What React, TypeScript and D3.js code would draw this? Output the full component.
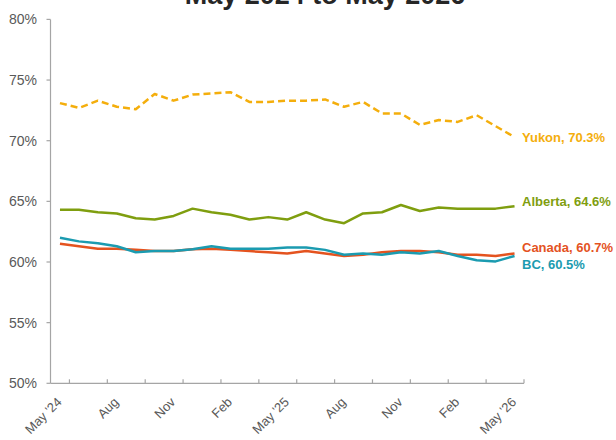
import * as d3 from 'd3';
import { useEffect, useRef } from 'react';

const WIDTH = 616;
const HEIGHT = 440;

const TITLE = 'May 2024 to May 2026';

// one entry per month, May '24 .. May '26
const MONTHS = [
    "May '24", 'Jun', 'Jul', 'Aug', 'Sep', 'Oct', 'Nov', 'Dec', 'Jan', 'Feb', 'Mar', 'Apr',
    "May '25", 'Jun', 'Jul', 'Aug', 'Sep', 'Oct', 'Nov', 'Dec', 'Jan', 'Feb', 'Mar', 'Apr', "May '26",
];

const YUKON = [
    73.1, 72.7, 73.3, 72.8, 72.6, 73.85, 73.3, 73.8, 73.9, 74.0, 73.2, 73.2, 73.3,
    73.3, 73.4, 72.8, 73.2, 72.25, 72.25, 71.3, 71.7, 71.55, 72.1, 71.2, 70.3,
];
const ALBERTA = [
    64.3, 64.3, 64.1, 64.0, 63.6, 63.5, 63.8, 64.4, 64.1, 63.9, 63.5, 63.7, 63.5,
    64.1, 63.5, 63.2, 64.0, 64.1, 64.7, 64.2, 64.5, 64.4, 64.4, 64.4, 64.6,
];
const CANADA = [
    61.5, 61.3, 61.1, 61.1, 61.0, 60.9, 60.9, 61.05, 61.1, 61.0, 60.9, 60.8, 60.7,
    60.9, 60.7, 60.5, 60.6, 60.8, 60.9, 60.9, 60.8, 60.6, 60.6, 60.5, 60.7,
];
const BC = [
    62.0, 61.7, 61.55, 61.3, 60.8, 60.9, 60.9, 61.05, 61.3, 61.1, 61.1, 61.1, 61.2,
    61.2, 61.0, 60.6, 60.7, 60.6, 60.8, 60.7, 60.9, 60.5, 60.15, 60.05, 60.5,
];

const Y_TICKS = [50, 55, 60, 65, 70, 75, 80];

type Series = { name: string; values: number[]; color: string; dashed: boolean; labelY: number };

const SERIES: Series[] = [
    { name: 'Yukon', values: YUKON, color: '#f4ae0c', dashed: true, labelY: 137 },
    { name: 'Alberta', values: ALBERTA, color: '#7f9e0f', dashed: false, labelY: 201 },
    { name: 'Canada', values: CANADA, color: '#e4531f', dashed: false, labelY: 247 },
    { name: 'BC', values: BC, color: '#1b9bb0', dashed: false, labelY: 264 },
];

const FONT = '"Liberation Sans", Arial, sans-serif';

const App = () => {
    const svgRef = useRef<SVGSVGElement | null>(null);

    useEffect(() => {
        document.body.style.margin = '0';
        if (!svgRef.current) return;

        const svg = d3.select(svgRef.current);
        svg.selectAll('*').remove();

        const left = 50.5;
        const right = 524;
        const top = 19.4;
        const bottom = 383.3;

        const x = d3.scaleBand<number>().domain(d3.range(MONTHS.length)).range([left, right]);
        const cx = (i: number) => x(i)! + x.bandwidth() / 2;
        const y = d3.scaleLinear().domain([50, 80]).range([bottom, top]);

        const axisColor = '#a5a5a5';
        const textColor = '#595959';

        // title, mostly clipped by the top edge (as in the original)
        svg.append('text')
            .attr('x', 325)
            .attr('y', 4)
            .attr('text-anchor', 'middle')
            .style('font-family', FONT)
            .style('font-weight', 'bold')
            .style('font-size', '27px')
            .attr('fill', '#262626')
            .text(TITLE);

        // y axis
        svg.append('line')
            .attr('x1', left)
            .attr('x2', left)
            .attr('y1', top)
            .attr('y2', bottom)
            .attr('stroke', axisColor)
            .attr('stroke-width', 1.2);

        const yTicks = svg.append('g');
        yTicks
            .selectAll('line')
            .data(Y_TICKS)
            .join('line')
            .attr('x1', left - 4)
            .attr('x2', left)
            .attr('y1', (d) => y(d))
            .attr('y2', (d) => y(d))
            .attr('stroke', axisColor)
            .attr('stroke-width', 1.2);
        yTicks
            .selectAll('text')
            .data(Y_TICKS)
            .join('text')
            .attr('x', 37)
            .attr('y', (d) => y(d))
            .attr('dy', '0.36em')
            .attr('text-anchor', 'end')
            .style('font-family', FONT)
            .style('font-size', '14px')
            .attr('fill', textColor)
            .text((d) => `${d}%`);

        // x axis, ticks on every second month boundary, pointing up
        svg.append('line')
            .attr('x1', left)
            .attr('x2', right)
            .attr('y1', bottom)
            .attr('y2', bottom)
            .attr('stroke', axisColor)
            .attr('stroke-width', 1.2);

        const boundaries = d3.range(1, MONTHS.length + 1, 2);
        svg.append('g')
            .selectAll('line')
            .data(boundaries)
            .join('line')
            .attr('x1', (i) => left + i * x.step())
            .attr('x2', (i) => left + i * x.step())
            .attr('y1', bottom - 4)
            .attr('y2', bottom)
            .attr('stroke', axisColor)
            .attr('stroke-width', 1.2);

        const labelled = d3.range(0, MONTHS.length, 3);
        svg.append('g')
            .selectAll('text')
            .data(labelled)
            .join('text')
            .attr('transform', (i) => `translate(${cx(i) - 4},${bottom + 13}) rotate(-45)`)
            .attr('text-anchor', 'end')
            .attr('dy', '0.71em')
            .style('font-family', FONT)
            .style('font-size', '13px')
            .attr('fill', textColor)
            .text((i) => MONTHS[i]);

        // lines
        const line = d3
            .line<number>()
            .x((_, i) => cx(i))
            .y((d) => y(d));

        // draw order: Yukon, Alberta, Canada, BC on top
        SERIES.forEach((s) => {
            svg.append('path')
                .datum(s.values)
                .attr('d', line)
                .attr('fill', 'none')
                .attr('stroke', s.color)
                .attr('stroke-width', 2.5)
                .attr('stroke-linejoin', 'round')
                .attr('stroke-dasharray', s.dashed ? '7,4' : null);

            const last = s.values[s.values.length - 1];
            svg.append('text')
                .attr('x', 522)
                .attr('y', s.labelY)
                .attr('dy', '0.36em')
                .style('font-family', FONT)
                .style('font-weight', 'bold')
                .style('font-size', '13px')
                .attr('fill', s.color)
                .text(`${s.name}, ${last.toFixed(1)}%`);
        });
    }, []);

    return <svg ref={svgRef} width={WIDTH} height={HEIGHT} style={{ display: 'block' }}></svg>;
};

export default App;
